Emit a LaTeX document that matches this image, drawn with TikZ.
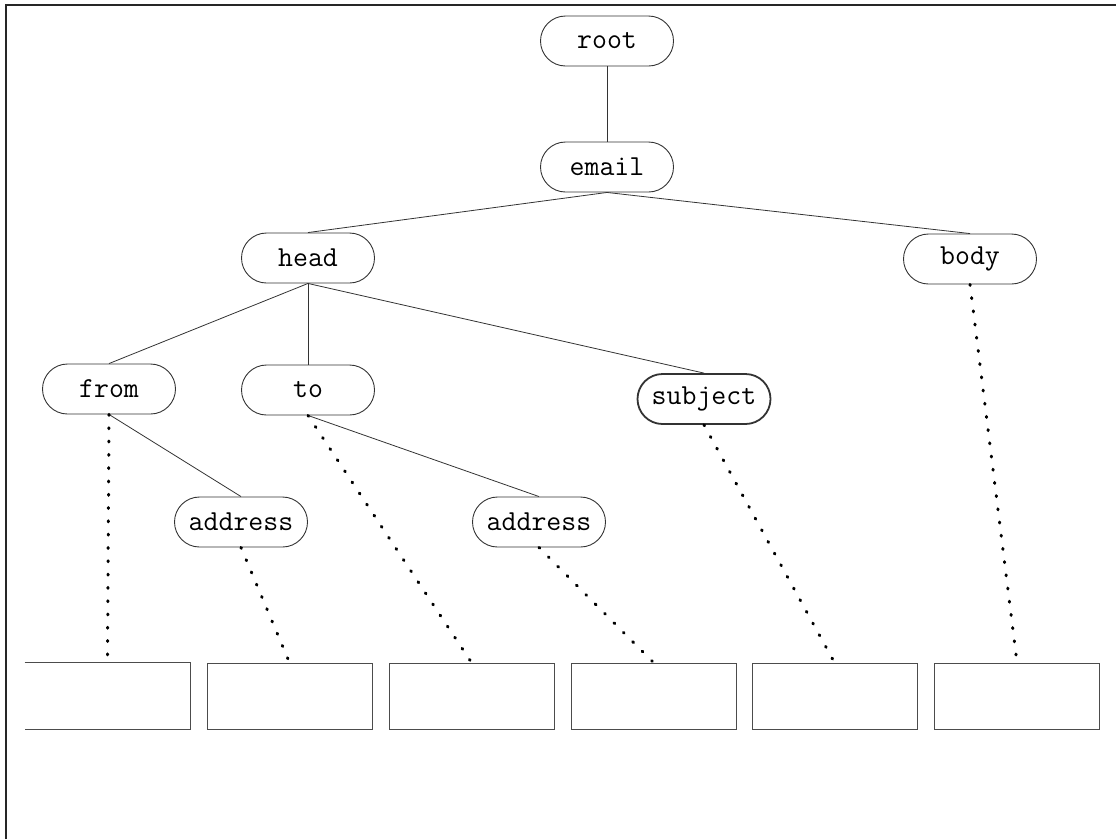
\documentclass[tikz,border=0pt]{standalone}
\begin{document}
\begin{tikzpicture}[x=1pt,y=-1pt,
  pill/.style={draw=black!80, line width=0.9pt, rounded corners=25pt, minimum width=133pt, minimum height=50pt, inner sep=0pt, font=\ttfamily\fontsize{29}{29}\selectfont},
  leaf/.style={draw=black!70, line width=0.9pt, minimum width=165pt, minimum height=66pt, inner sep=0pt},
  tree/.style={draw=black!80, line width=0.8pt},
  dots/.style={draw=black, line width=3pt, line cap=round, dash pattern=on 1pt off 12.3pt},
  frame/.style={draw=black!85, line width=2pt}]
\useasboundingbox (0,0) rectangle (1116,839);
% frame
\coordinate (fa) at (6,839);
\coordinate (fb) at (6,5);
\coordinate (fc) at (1116,5);
\draw[frame] (fa) -- (fb) -- (fc);
% nodes
\node[pill] (root) at (607,41) {root};
\node[pill] (email) at (607,167) {email};
\node[pill] (head) at (308,258) {head};
\node[pill] (body) at (970,259) {body};
\node[pill] (from) at (109,389) {from};
\node[pill] (to) at (308,390) {to};
\node[pill, line width=1.8pt] (subject) at (704,399) {subject};
\node[pill] (addr1) at (241,522) {address};
\node[pill] (addr2) at (539,522) {address};
% boxes
\node[leaf, draw=none] (b1) at (107.5,696) {};
\draw[draw=black!70, line width=0.9pt] (b1.north west) -- (b1.north east) -- (b1.south east) -- (b1.south west);
\node[leaf] (b2) at (289.5,696) {};
\node[leaf] (b3) at (471.5,696) {};
\node[leaf] (b4) at (653.5,696) {};
\node[leaf] (b5) at (834.5,696) {};
\node[leaf] (b6) at (1017,696) {};
% tree edges
\draw[tree] (root.south) -- (email.north);
\draw[tree] (email.south) -- (head.north);
\draw[tree] (email.south) -- (body.north);
\draw[tree] (head.south) -- (from.north);
\draw[tree] (head.south) -- (to.north);
\draw[tree] (head.south) -- (subject.north);
\draw[tree] (from.south) -- (addr1.north);
\draw[tree] (to.south) -- (addr2.north);
% dotted links
\draw[dots] (from.south) -- (b1.north);
\draw[dots] (addr1.south) -- (b2.north);
\draw[dots] (to.south) -- (b3.north);
\draw[dots] (addr2.south) -- (b4.north);
\draw[dots] (subject.south) -- (b5.north);
\draw[dots] (body.south) -- (b6.north);
\end{tikzpicture}
\end{document}
